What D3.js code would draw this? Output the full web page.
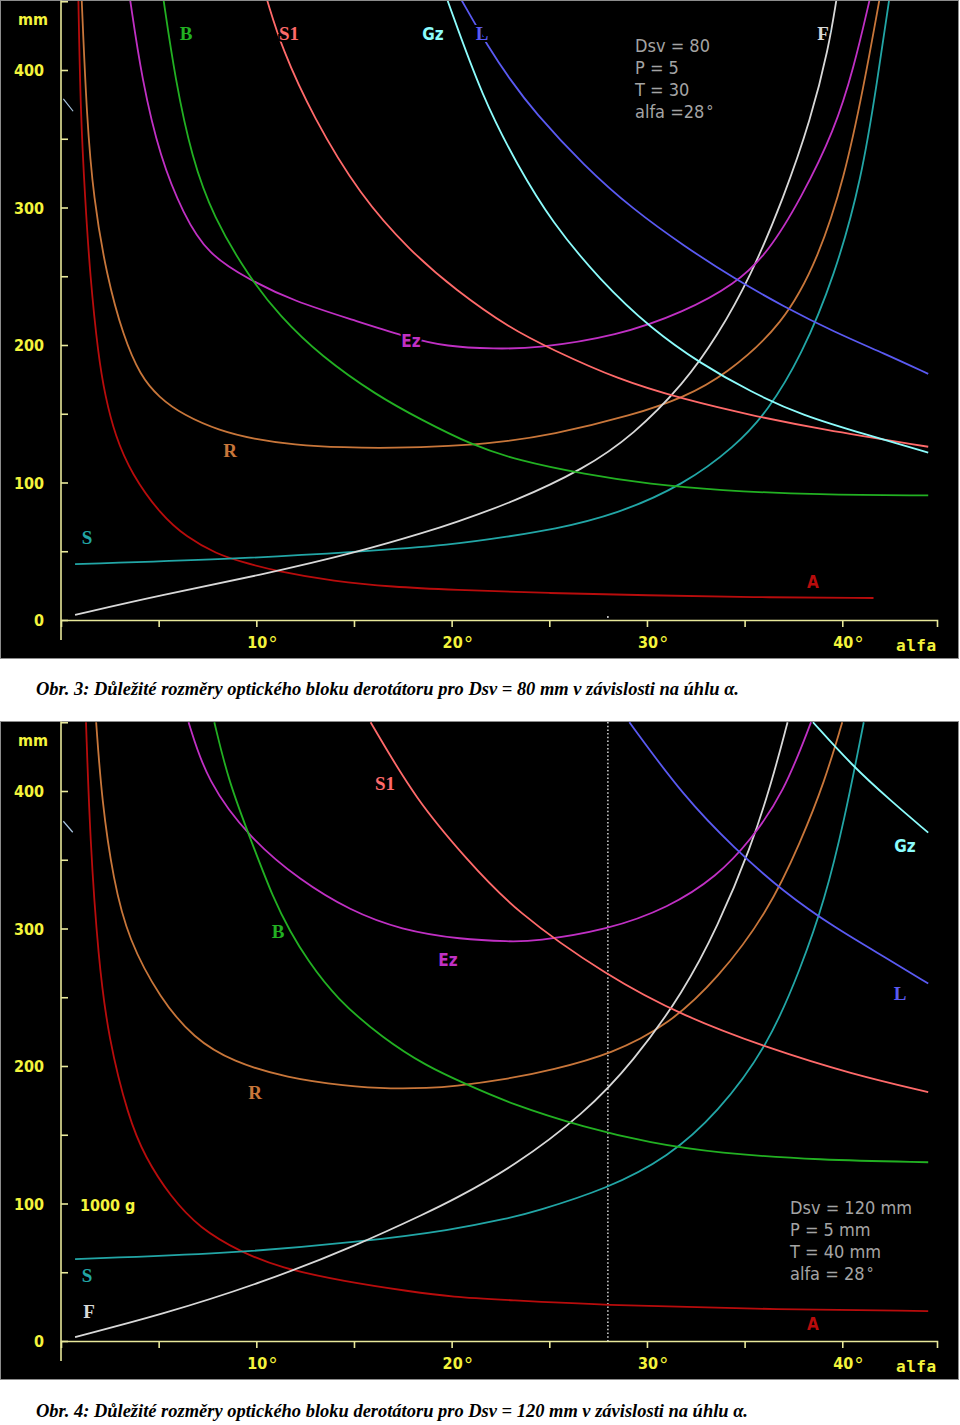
<!DOCTYPE html>
<html><head><meta charset="utf-8">
<script src="https://cdn.jsdelivr.net/npm/d3@7"></script>
<style>body{margin:0;background:#fff} svg{display:block}</style>
</head><body>
<svg id="c" width="960" height="1425"></svg>
<script>
// ---------- DATA (alfa in degrees, value in mm) ----------
const yTickValues = [0, 50, 100, 150, 200, 250, 300, 350, 400, 450];
const yLabelValues = [0, 100, 200, 300, 400];
const xTickValues = [5, 10, 15, 20, 25, 30, 35, 40];
const xLabelValues = [10, 20, 30, 40];
const alfaSet = 28;

// Obr. 3 : Dsv = 80 mm
const A80 = [[0.89,451],[1.0,370],[1.23,307],[1.49,250],[1.91,192],[2.26,163],[2.77,134],[3.62,106],[5.08,77],[6.44,60],[7.98,48],[9.18,42.5],[11.06,35.4],[13.96,28.2],[17,24],[20,22],[25,19.5],[30,18],[35.3,16.5],[41.6,16]];
const R80 = [[1.06,451],[1.32,365],[1.66,307],[2.34,250],[3.2,206],[4.05,178],[5.0,162],[6.27,149],[8.15,137.5],[9.85,131.7],[11.9,127.4],[14.5,125.4],[17,125],[19.95,126.5],[22.2,128.8],[25.1,134.5],[29.3,149],[31.9,162],[34,178],[37,215],[38.8,264],[40.1,321],[41.1,388],[41.9,451]];
const Ez80 = [[3.54,451],[4.14,393],[5.08,336],[6.27,295],[7.5,266],[9.7,247],[11.9,232],[15,218],[17.5,206.5],[19.8,198.5],[22.2,197.3],[24.2,197.3],[28.5,206.5],[31.9,224],[34.5,244],[36.2,267],[37.9,307],[39.6,356],[40.6,402],[41.4,451]];
const B80 = [[5.25,451],[5.85,393],[6.7,336],[7.8,293],[9.6,250],[11.2,221],[13.3,192],[16.2,163],[18.4,146],[21,127.4],[23.4,116],[26.8,106],[30.2,98.6],[33.6,94.3],[38.8,91],[44.4,90.6]];
const S1_80 = [[10.55,451],[11.3,416],[12.9,366],[15.3,309],[17.9,268],[20.2,240],[23,212],[25.1,197],[28.5,175],[31.9,160.4],[35.3,149],[38.8,139],[44.4,126]];
const Gz80 = [[19.78,451],[21.6,379],[23.4,330],[25.1,290],[27.6,247],[30.2,212],[32.8,186],[35.3,166],[37.9,149],[41.3,134.5],[44.4,121.7]];
const L80 = [[20.5,451],[21.9,416],[23,393],[24.2,370],[26.8,330],[29.3,298.5],[31.9,272],[34.5,248],[37,228],[39.6,209.4],[42.2,193.5],[44.4,179]];
const F80 = [[0.72,3.7],[5.08,18],[10.2,32.6],[15.3,49.7],[18.8,64.5],[20,70],[23.2,86],[26.8,110],[29.3,134.5],[31.9,172],[33.6,206.5],[35.3,249.6],[37,307],[38.4,364.6],[39.3,416],[39.7,451]];
const S80 = [[0.72,40.7],[8.5,44],[15.3,49.7],[20,54.5],[23,61],[25.1,65.5],[28.5,77],[31.9,98.6],[34.5,126],[36.2,152],[37.9,192],[39.6,249.6],[41,321],[41.8,393],[42.4,451]];
const slash80 = [[0.12,379],[0.62,370]];

// Obr. 4 : Dsv = 120 mm
const A120 = [[1.28,450],[1.49,364],[1.91,278],[2.43,220],[3.45,162.6],[4.3,133.8],[5.6,105],[7.1,82],[9.2,64.8],[11.2,53.3],[14.5,43.3],[17.9,36],[20,32],[22.9,29.8],[27.6,26.2],[35.3,23.3],[44.4,21.8]];
const R120 = [[1.8,450],[2.09,393],[2.68,335],[3.45,292],[5.08,249],[6.8,220],[8.8,203],[11.6,191.3],[14.5,185.6],[17,183.3],[18.8,184],[20,185],[23,190.8],[25.1,197],[28.2,208.7],[31.1,230],[33.6,263],[36.2,312],[37.9,364],[39.1,407],[40,450]];
const Ez120 = [[6.53,450],[7.47,407],[9.7,365],[12.25,335],[14.8,313],[17.4,299],[20.5,292],[23,290.5],[24.2,290.5],[28,299],[31.1,315],[33.6,338],[35.3,364],[37,398.5],[38.4,450]];
const B120 = [[7.85,450],[8.58,407],[9.73,364],[10.9,320.7],[11.74,297.7],[12.58,277.8],[14.1,248.9],[16.5,220],[18.7,200],[20.7,187],[23,172.6],[26.8,155.3],[30.2,144],[33.6,136.7],[38.8,131.6],[44.4,130]];
const S1_120 = [[15.85,450],[18.2,393],[20.8,350],[23.2,313],[28,265],[31.9,236],[36.2,213],[40.5,194],[44.4,181]];
const L120 = [[29.1,450],[31.9,395.6],[34.5,358],[37,326.5],[39.6,300.7],[42.2,279],[44.4,260]];
const Gz120 = [[38.5,450],[40.5,418.5],[42.5,392.7],[44.4,369.7]];
const F120 = [[0.72,2.9],[5.08,18.9],[10.2,41.8],[15.3,70.5],[18.8,93.8],[20,102],[23.2,127],[26.8,165.5],[29.3,203],[31.9,254.6],[33.6,300.7],[35.3,358],[36.4,407],[37.2,450]];
const S120 = [[0.72,59.6],[8.5,63.4],[15.3,72],[20,80.7],[23,89.5],[24.2,93.8],[28,110.8],[31.1,133.8],[33.6,165.5],[36.2,214.5],[37.9,272],[39.1,320.7],[40.1,378],[41.1,450]];
const slash120 = [[0.12,378],[0.6,370]];

const colors = {A:"#b80c0c", R:"#c8763a", Ez:"#c030c4", B:"#22b022", S1:"#ff6a6a", Gz:"#8cfcfc", L:"#5a5af2", F:"#d8d8d8", S:"#22a6a6", slash:"#a8c4e0"};

const chart1 = {
  top: 0,
  series: [["slash",slash80],["A",A80],["R",R80],["S",S80],["F",F80],["Ez",Ez80],["B",B80],["S1",S1_80],["Gz",Gz80],["L",L80]],
  labels: [["B",186,34,"serif"],["S1",289,34,"serif"],["Gz",433,34,"sans"],["L",482,34,"serif"],["F",823,34,"serif"],["Ez",411,341,"sans"],["R",230,451,"serif"],["S",87,538,"serif"],["A",813,582,"sans"]],
  info: {x:635, y:52, lines:["Dsv = 80","P = 5","T = 30","alfa =28"]},
  dotted: false,
  caption: "Obr. 3: Důležité rozměry optického bloku derotátoru pro Dsv = 80 mm v závislosti na úhlu α.",
  capY: 695, capLen: 703
};
const chart2 = {
  top: 721,
  series: [["slash",slash120],["A",A120],["R",R120],["S",S120],["F",F120],["Ez",Ez120],["B",B120],["S1",S1_120],["Gz",Gz120],["L",L120]],
  labels: [["S1",385,63,"serif"],["B",278,211,"serif"],["Ez",448,239,"sans"],["R",255,372,"serif"],["S",87,555,"serif"],["F",89,591,"serif"],["Gz",905,125,"sans"],["L",900,273,"serif"],["A",813,603,"sans"]],
  info: {x:790, y:493, lines:["Dsv = 120 mm","P = 5 mm","T = 40 mm","alfa = 28"]},
  dotted: true,
  extra: {text:"1000 g", x:80, y:490},
  caption: "Obr. 4: Důležité rozměry optického bloku derotátoru pro Dsv = 120 mm v závislosti na úhlu α.",
  capY: 1417, capLen: 712
};

// ---------- DRAWING ----------
const svg = d3.select("#c");
svg.append("rect").attr("width",960).attr("height",1425).attr("fill","#fff");
const condensed = "'DejaVu Sans Condensed','Liberation Sans Narrow','DejaVu Sans',sans-serif";
const YEL = "#f4f43c", AXIS = "#e8e89a";

function drawChart(cfg, idx) {
  const T = cfg.top;
  const g = svg.append("g");
  g.append("rect").attr("x",0.5).attr("y",T+0.5).attr("width",958).attr("height",658)
    .attr("fill","#000").attr("stroke","#8c8c8c");
  const x = d3.scaleLinear().domain([0,44.85]).range([61,937]);
  const y = d3.scaleLinear().domain([0,400]).range([T+620,T+70]);

  const clipId = "clip"+idx;
  g.append("clipPath").attr("id",clipId).append("rect")
    .attr("x",62).attr("y",T+1).attr("width",876).attr("height",619);

  // axes
  g.append("line").attr("x1",x(0)).attr("x2",x(0)).attr("y1",y(-14.5)).attr("y2",y(450.5))
    .attr("stroke",AXIS).attr("stroke-width",1.6);
  const ya = g.append("g").attr("transform",`translate(${x(0)},0)`)
    .call(d3.axisRight(y).tickValues(yTickValues).tickSize(7).tickFormat(""));
  ya.select(".domain").remove();
  ya.selectAll("line").attr("stroke",AXIS).attr("stroke-width",1.6);
  const xa = g.append("g").attr("transform",`translate(0,${y(0)})`)
    .call(d3.axisBottom(x).tickValues(xTickValues).tickSize(7).tickFormat(""));
  xa.select(".domain").attr("stroke",AXIS).attr("stroke-width",1.6);
  xa.selectAll("line").attr("stroke",AXIS).attr("stroke-width",1.6);

  // y labels
  g.selectAll(".yl").data(yLabelValues).enter().append("text")
    .attr("x",44).attr("y",d=>y(d)+6).attr("text-anchor","end")
    .attr("font-family",condensed).attr("font-stretch","condensed").attr("font-weight","bold")
    .attr("font-size",16).attr("fill",YEL).text(d=>d);
  g.append("text").attr("x",18).attr("y",T+25)
    .attr("font-family",condensed).attr("font-stretch","condensed").attr("font-weight","bold")
    .attr("font-size",16).attr("fill",YEL).text("mm");
  // x labels
  const xl = g.selectAll(".xl").data(xLabelValues).enter().append("g");
  xl.append("text").attr("x",d=>x(d)+1).attr("y",T+648).attr("text-anchor","middle")
    .attr("font-family",condensed).attr("font-stretch","condensed").attr("font-weight","bold")
    .attr("font-size",16).attr("fill",YEL).text(d=>d);
  xl.append("text").attr("x",d=>x(d)+12).attr("y",T+651)
    .attr("font-family","'DejaVu Sans',sans-serif").attr("font-size",19).attr("fill",YEL).text("°");
  g.append("text").attr("x",896).attr("y",T+651)
    .attr("font-family","'DejaVu Sans Mono',monospace").attr("font-weight","bold")
    .attr("font-size",16).attr("letter-spacing",0.5).attr("fill",YEL).text("alfa");

  // alfa marker
  if (cfg.dotted) {
    g.append("line").attr("x1",x(alfaSet)).attr("x2",x(alfaSet)).attr("y1",T+1).attr("y2",y(0))
      .attr("stroke","#e6e6e6").attr("stroke-width",1.4).attr("stroke-dasharray","1.5,2.2");
  } else {
    g.append("line").attr("x1",x(alfaSet)).attr("x2",x(alfaSet)).attr("y1",y(1.5)).attr("y2",y(3))
      .attr("stroke","#e6e6e6").attr("stroke-width",1.4);
  }

  // curves
  const line = d3.line().x(d=>x(d[0])).y(d=>y(d[1])).curve(d3.curveBasis);
  const cg = g.append("g").attr("clip-path",`url(#${clipId})`);
  cg.selectAll("path.curve").data(cfg.series).enter().append("path")
    .attr("class","curve").attr("d",d=>line(d[1])).attr("fill","none")
    .attr("stroke",d=>colors[d[0]]).attr("stroke-width",d=>d[0]==="slash"?1.2:1.8);

  // curve labels
  g.selectAll(".cl").data(cfg.labels).enter().append("text")
    .attr("x",d=>d[1]).attr("y",d=>T+d[2]+6).attr("text-anchor","middle")
    .attr("font-family",d=>d[3]==="serif"?"'Liberation Serif','DejaVu Serif',serif":condensed)
    .attr("font-stretch",d=>d[3]==="serif"?null:"condensed")
    .attr("font-weight","bold").attr("font-size",d=>d[3]==="serif"?19:17)
    .attr("fill",d=>colors[d[0]])
    .attr("stroke","#000").attr("stroke-width",4).attr("paint-order","stroke")
    .text(d=>d[0]);

  // info block
  const info = g.append("g");
  cfg.info.lines.forEach((t,i)=>{
    const tx = info.append("text").attr("x",cfg.info.x).attr("y",T+cfg.info.y+i*22)
      .attr("font-family",condensed).attr("font-stretch","condensed")
      .attr("font-size",18).attr("fill","#a4a4a4").text(t);
    if (i===3) tx.append("tspan").attr("dx",2).attr("font-size",16).attr("dy",-1).text("°");
  });
  if (cfg.extra) {
    g.append("text").attr("x",cfg.extra.x).attr("y",T+cfg.extra.y)
      .attr("font-family",condensed).attr("font-stretch","condensed").attr("font-weight","bold")
      .attr("font-size",16).attr("fill",YEL).text(cfg.extra.text);
  }

  // caption
  svg.append("text").attr("x",36).attr("y",cfg.capY)
    .attr("font-family","'Liberation Serif','Times New Roman',serif")
    .attr("font-style","italic").attr("font-weight","bold").attr("font-size",18.5)
    .attr("textLength",cfg.capLen).attr("lengthAdjust","spacingAndGlyphs")
    .attr("fill","#000").text(cfg.caption);
}
drawChart(chart1,1);
drawChart(chart2,2);
</script>
</body></html>
